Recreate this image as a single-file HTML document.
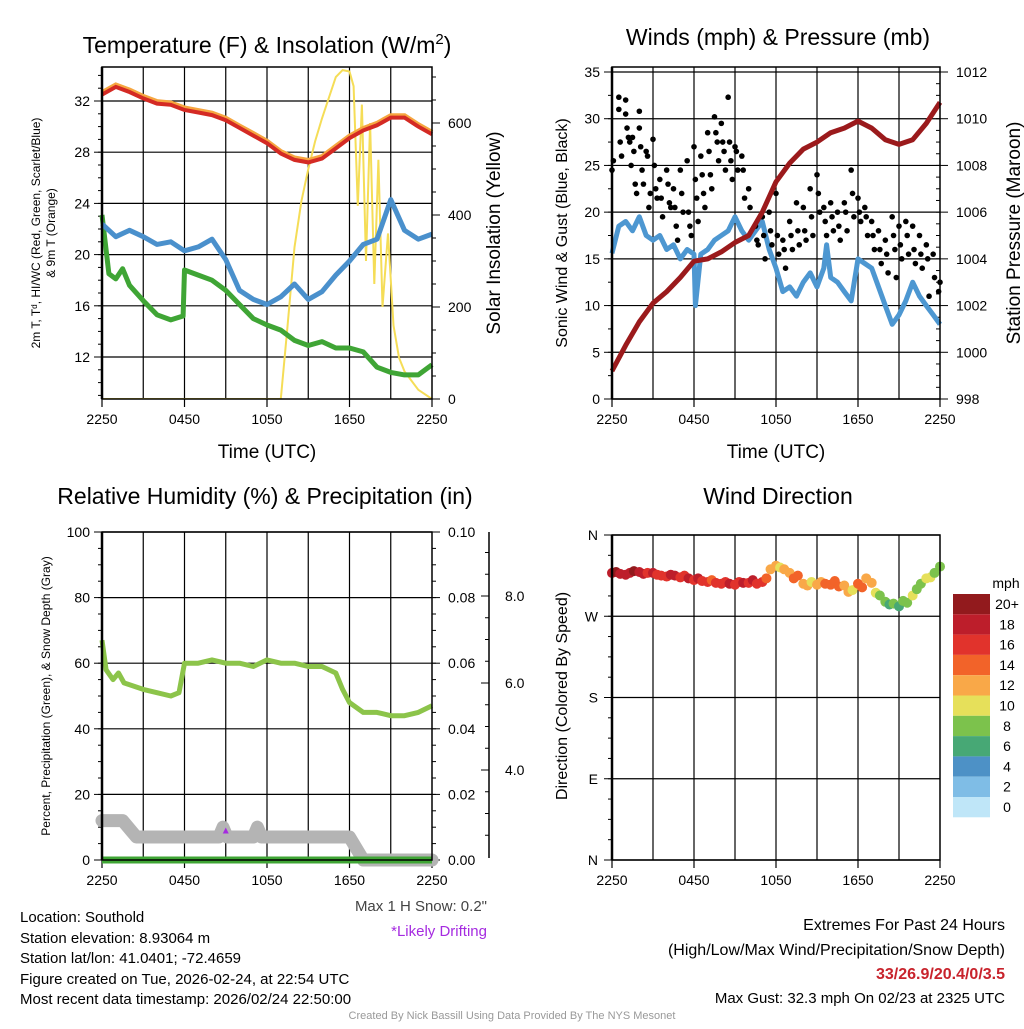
<!DOCTYPE html>
<html><head><meta charset="utf-8"><style>
body{margin:0;background:#fff;}
svg text{font-family:"Liberation Sans",sans-serif;fill:#000;}
</style></head><body>
<svg id="c" width="1024" height="1024" viewBox="0 0 1024 1024" xmlns="http://www.w3.org/2000/svg">
<g id="g1"></g>
<g id="g2"></g>
<g id="g3"></g>
<g id="g4"></g>
<g font-size="15">
<text x="20" y="922">Location: Southold</text>
<text x="20" y="943">Station elevation: 8.93064 m</text>
<text x="20" y="963">Station lat/lon: 41.0401; -72.4659</text>
<text x="20" y="984">Figure created on Tue, 2026-02-24, at 22:54 UTC</text>
<text x="20" y="1004">Most recent data timestamp: 2026/02/24 22:50:00</text>
<text x="487" y="911" text-anchor="end" fill="#444" style="fill:#444">Max 1 H Snow: 0.2"</text>
<text x="487" y="936" text-anchor="end" style="fill:#a52be0">*Likely Drifting</text>
<text x="1005" y="930" text-anchor="end" font-size="16">Extremes For Past 24 Hours</text>
<text x="1005" y="955" text-anchor="end" font-size="16">(High/Low/Max Wind/Precipitation/Snow Depth)</text>
<text x="1005" y="979" text-anchor="end" font-size="16" font-weight="bold" style="fill:#c8232c">33/26.9/20.4/0/3.5</text>
<text x="1005" y="1003" text-anchor="end" font-size="15">Max Gust: 32.3 mph On 02/23 at 2325 UTC</text>
<text x="512" y="1019" text-anchor="middle" font-size="11" style="fill:#999">Created By Nick Bassill Using Data Provided By The NYS Mesonet</text>
</g>
</svg>
<script>
// ---------- data ----------
const xTickLabels = ["2250","0450","1050","1650","2250"];
const hours = [0,1,2,3,4,5,6,7,8,9,10,11,12,13,14,15,16,17,18,19,20,21,22,23,24];
const tempVals = [32.5,33.1,32.7,32.2,31.8,31.7,31.3,31.1,30.9,30.5,29.9,29.3,28.7,27.9,27.4,27.2,27.5,28.3,29.1,29.7,30.1,30.7,30.7,30.0,29.4];
const dewVals = [22.4,21.4,21.9,21.4,20.8,21.0,20.3,20.6,21.2,19.6,17.2,16.5,16.1,16.7,17.7,16.5,17.1,18.4,19.5,20.8,21.2,24.3,21.9,21.2,21.6];
const chillHours = [0,0.5,1,1.5,2,3,4,5,5.9,6,7,8,9,10,11,12,13,14,15,16,17,18,19,20,21,22,23,24];
const chillVals = [23.1,18.5,18.1,18.9,17.6,16.4,15.3,14.9,15.2,18.8,18.4,18.0,17.2,16.1,15.0,14.5,14.1,13.3,12.9,13.2,12.7,12.7,12.4,11.2,10.8,10.6,10.6,11.4];
const solarHours = [0,13,13.5,14,14.5,15,15.5,16,16.5,17,17.5,18,18.3,18.6,18.9,19.2,19.5,19.8,20.1,20.4,20.8,21.2,21.6,22,22.5,23,24];
const solarVals = [0,0,160,330,430,500,560,610,655,700,715,712,680,420,640,300,600,250,520,200,360,160,90,60,40,20,0];
const tempTicks = [12,16,20,24,28,32];
const solarTicks = [0,200,400,600];

const windHours = [0,0.5,1,1.5,2,2.5,3,3.5,4,4.5,5,5.5,6,6.1,6.5,7,7.5,8,8.5,9,9.5,10,10.5,11,11.5,12,12.5,13,13.5,14,14.5,15,15.5,15.7,16,16.5,17,17.5,18,18.5,19,19.5,20,20.5,21,21.5,22,22.5,23,23.5,24];
const windVals = [15.6,18.5,19,18,19.5,17.5,17,17.5,16,16.5,15,16,15.5,10,15.5,16,17,17.5,18,19.5,18,17,18,19,16,14,11.5,12,11,12.5,13.5,12,14,16.5,13,12.5,11.5,10.5,15,14.5,14,12,10,8,9,10.5,12.5,11,10,9,8];
const gustHours = [0,0.1,0.5,0.5,0.6,0.7,1,1,1.1,1.2,1.3,1.4,1.5,1.6,1.7,1.8,2,2,2.1,2.2,2.3,2.5,2.6,2.7,2.8,3,3.1,3.2,3.3,3.5,3.6,3.7,4,4.1,4.2,4.3,4.5,4.6,4.7,4.8,5,5.1,5.2,5.5,5.6,5.7,5.8,6,6.1,6.2,6.3,6.5,6.6,6.7,6.8,7,7.1,7.2,7.3,7.5,7.6,7.7,7.8,8,8.1,8.2,8.3,8.5,8.6,8.7,8.8,9,9.1,9.2,9.5,9.6,9.7,10,10.1,10.5,10.6,10.7,11,11.1,11.2,11.5,11.6,11.7,12,12.1,12.2,12.5,12.6,12.7,13,13.1,13.2,13.5,13.6,13.7,14,14.1,14.2,14.5,14.6,14.7,15,15.1,15.2,15.5,15.6,15.7,16,16.1,16.2,16.5,16.6,16.7,17,17.1,17.2,17.5,17.6,17.7,18,18.1,18.2,18.5,18.6,18.7,19,19.1,19.2,19.5,19.6,19.7,20,20.1,20.2,20.5,20.6,20.7,20.8,21,21.1,21.2,21.5,21.6,21.7,22,22.1,22.2,22.5,22.6,22.7,23,23.1,23.2,23.5,23.6,24,23.9];
const gustVals = [24.5,25.5,32.3,31,27.5,26,32,30.5,29,28,27.5,25,28,26.5,23,22,30.8,29,27,24.5,23,26.5,26,20.5,22,27.8,25,22.5,21.5,23.5,21.5,19.5,24.5,23,21,20.5,22.5,20.5,18.5,17,24.5,22,20,25.5,20,18.5,17.5,27,23.5,21.5,19,26,24,22,20.5,28.5,26.5,24,22.5,30.2,28.5,27.5,25.5,29.5,27.5,26.5,24.5,32.3,27.5,25.5,23.5,27,26.5,24.5,26,24.5,21.5,22.5,20.5,18.5,17,16.5,19.5,17.5,15,20,18,16.5,22,17.5,15.5,17,16,14,19,17.5,16,21,18,16.5,20.5,18,17,22.5,19.5,17.5,24,22,20,20.5,19,17.5,21,19.5,18,20,18.5,17,21,20,18,24.5,22,19.5,21.5,20,19,20.5,19.5,17.5,19,17.5,16,18,16,14.5,17,15.5,13.5,19.5,17.5,16,13,18.5,16.5,15,19,17.5,15.5,18.5,16,14.5,17.5,15.5,14,16.5,15,11,15.5,13,12.5,11.5];
const presHours = hours;
const presVals = [999.2,1000.3,1001.3,1002.1,1002.6,1003.2,1003.9,1004.0,1004.3,1004.7,1005.0,1006.0,1007.3,1008.1,1008.7,1009.0,1009.4,1009.6,1009.9,1009.6,1009.1,1008.9,1009.1,1009.8,1010.7];
const windTicks = [0,5,10,15,20,25,30,35];
const presTicks = [998,1000,1002,1004,1006,1008,1010,1012];

const rhHours = [0,0.3,0.8,1.2,1.6,3,4,5,5.6,6,7,8,9,10,11,12,13,14,15,16,17,17.5,18,19,20,21,22,23,24];
const rhVals = [67,58,55,57,54,52,51,50,51,60,60,61,60,60,59,61,60,60,59,59,57,52,48,45,45,44,44,45,47];
const snowHours = [0,1.5,2.5,3,6,8.5,8.8,9.1,9.4,10,11,11.3,11.6,12,18,19,24];
const snowVals = [12,12,7,7,7,7,10,7,7,7,7,10,7,7,7,0,0];
const precipVals = [0,0];
const precipHours = [0,24];
const rhTicks = [0,20,40,60,80,100];
const precipTicks = ["0.00","0.02","0.04","0.06","0.08","0.10"];
const snowTicks = ["4.0","6.0","8.0"];

const dirHours = [0,0.3,0.6,1,1.3,1.6,2,2.3,2.6,3,3.3,3.6,4,4.3,4.6,5,5.3,5.6,6,6.3,6.6,7,7.3,7.6,8,8.3,8.6,9,9.3,9.6,10,10.3,10.6,11,11.3,11.6,12,12.3,12.6,13,13.3,13.6,14,14.3,14.6,15,15.3,15.6,16,16.3,16.6,17,17.3,17.6,18,18.3,18.6,19,19.3,19.6,20,20.3,20.6,21,21.3,21.6,22,22.3,22.6,23,23.3,23.6,24];
const dirVals = [318,319,317,316,318,320,319,317,318,318,316,315,314,316,315,313,315,312,310,312,309,308,310,307,306,308,306,305,308,307,307,310,306,308,312,322,326,324,322,318,312,315,306,304,308,305,308,306,305,309,303,304,297,299,306,302,312,307,296,293,286,283,284,281,287,285,293,300,306,312,313,318,325];
const dirSpeeds = [19,20,18,19,18,20,19,18,17,18,17,16,17,19,18,17,16,18,17,18,17,16,15,17,16,17,18,16,17,18,17,19,16,17,15,12,13,11,13,12,14,15,12,13,11,13,12,14,15,14,14,13,12,11,14,15,12,13,10,9,8,7,8,7,8,9,10,9,8,10,11,9,8];
const dirTicks = ["N","E","S","W","N"];
const cbLabels = ["20+","18","16","14","12","10","8","6","4","2","0"];
const cbColors = ["#921a1d","#bd1e2b","#e1332c","#f26329","#f9a848","#e6e05a","#7cc24c","#47a875","#4d91c6","#7fbde6","#bfe6f8"];

// ---------- helpers ----------
const NS="http://www.w3.org/2000/svg";
function mk(parent,tag,attrs){const e=document.createElementNS(NS,tag);for(const k in attrs)e.setAttribute(k,attrs[k]);parent.appendChild(e);return e;}
function txt(parent,x,y,s,size,anchor,extra){const t=mk(parent,"text",Object.assign({x:x,y:y,"font-size":size,"text-anchor":anchor||"middle"},extra||{}));t.textContent=s;return t;}
function lin(d0,d1,r0,r1){return v=>r0+(v-d0)/(d1-d0)*(r1-r0);}
function pathFrom(xs,ys,fx,fy){return xs.map((h,i)=>(i?"L":"M")+fx(h).toFixed(1)+","+fy(ys[i]).toFixed(1)).join(" ");}

function frame(g,L,R,T,B){
  const fx=lin(0,24,L,R);
  for(let h=3;h<24;h+=3){
    const l=mk(g,"line",{x1:fx(h),x2:fx(h),y1:T,y2:B,stroke:"#000","stroke-width":1.2});
    
    
  }
  xTickLabels.forEach((s,i)=>{
    const x=fx(i*6);
    mk(g,"line",{x1:x,x2:x,y1:B,y2:B+8,stroke:"#000","stroke-width":1.2});
    const t=txt(g,x,B+25,s,14);
    
    
  });
  return fx;
}
function box(g,L,R,T,B){
  const r=mk(g,"rect",{x:L,y:T,width:R-L,height:B-T,fill:"none",stroke:"#000","stroke-width":1.5});
  
  
  mk(g,"line",{x1:L,x2:L,y1:T,y2:B,stroke:"#000","stroke-width":2.5});
}

// ---------- panel 1 ----------
(function(){
  const g=document.getElementById("g1");
  const L=102,R=432,T=67,B=399;
  const fx=frame(g,L,R,T,B);
  const fy=lin(32,12,101,357);
  const fs=lin(0,600,399,123);
  tempTicks.forEach(v=>{
    mk(g,"line",{x1:L,x2:R,y1:fy(v),y2:fy(v),stroke:"#000","stroke-width":1.2});
    mk(g,"line",{x1:L-8,x2:L,y1:fy(v),y2:fy(v),stroke:"#000"});
    const t=txt(g,L-12,fy(v)+5,String(v),14,"end");
    
    
  });
  for(let v=9;v<=34;v++){mk(g,"line",{x1:L-4,x2:L,y1:fy(v),y2:fy(v),stroke:"#000"});}
  solarTicks.forEach(v=>{
    mk(g,"line",{x1:R,x2:R+8,y1:fs(v),y2:fs(v),stroke:"#000"});
    const t=txt(g,R+16,fs(v)+5,String(v),14,"start");
    
    
  });
  for(let v=0;v<=700;v+=50){mk(g,"line",{x1:R,x2:R+4,y1:fs(v),y2:fs(v),stroke:"#000"});}
  const clip=mk(g,"clipPath",{id:"cp1"});mk(clip,"rect",{x:L,y:T,width:R-L,height:B-T});
  const s=mk(g,"path",{d:pathFrom(solarHours,solarVals,fx,fs),fill:"none",stroke:"#f5dd57","stroke-width":2,"clip-path":"url(#cp1)"});
  
  
  const c=mk(g,"path",{d:pathFrom(chillHours,chillVals,fx,fy),fill:"none",stroke:"#3fa535","stroke-width":5,"stroke-linejoin":"round"});
  
  
  const d=mk(g,"path",{d:pathFrom(hours,dewVals,fx,fy),fill:"none",stroke:"#4a90cc","stroke-width":5,"stroke-linejoin":"round"});
  
  
  const o=mk(g,"path",{d:pathFrom(hours,tempVals.map(v=>v+0.15),fx,fy),fill:"none",stroke:"#f6a640","stroke-width":5});
  
  
  const t=mk(g,"path",{d:pathFrom(hours,tempVals,fx,fy),fill:"none",stroke:"#d42a24","stroke-width":4});
  
  
  box(g,L,R,T,B);
  const ti=txt(g,267,53,"Temperature (F) & Insolation (W/m",23);
  
  
  const sup=mk(ti,"tspan",{dy:-9,"font-size":15});sup.textContent="2";
  const sup2=mk(ti,"tspan",{dy:9});sup2.textContent=")";
  const xl=txt(g,267,458,"Time (UTC)",19);
  
  
  const yl=mk(g,"text",{transform:"translate(40,233) rotate(-90)","font-size":12,"text-anchor":"middle"});
  yl.textContent="2m T, T\u1D48, HI/WC (Red, Green, Scarlet/Blue)";
  
  
  const yl2=mk(g,"text",{transform:"translate(55,233) rotate(-90)","font-size":12,"text-anchor":"middle"});
  yl2.textContent="& 9m T (Orange)";
  
  
  const yr=mk(g,"text",{transform:"translate(500,233) rotate(-90)","font-size":19,"text-anchor":"middle"});
  yr.textContent="Solar Insolation (Yellow)";
  
  
})();

// ---------- panel 2 ----------
(function(){
  const g=document.getElementById("g2");
  const L=612,R=940,T=67,B=399;
  const fx=frame(g,L,R,T,B);
  const fy=lin(0,35,399,72);
  const fp=lin(998,1012,399,72);
  windTicks.forEach(v=>{
    mk(g,"line",{x1:L,x2:R,y1:fy(v),y2:fy(v),stroke:"#000","stroke-width":1.2});
    mk(g,"line",{x1:L-8,x2:L,y1:fy(v),y2:fy(v),stroke:"#000"});
    const t=txt(g,L-12,fy(v)+5,String(v),14,"end");
    
    
  });
  for(let v=0;v<=35;v+=2.5){mk(g,"line",{x1:L-4,x2:L,y1:fy(v),y2:fy(v),stroke:"#000"});}
  presTicks.forEach(v=>{
    mk(g,"line",{x1:R,x2:R+8,y1:fp(v),y2:fp(v),stroke:"#000"});
    const t=txt(g,R+16,fp(v)+5,String(v),14,"start");
    
    
  });
  for(let v=998;v<=1012;v+=0.5){mk(g,"line",{x1:R-4,x2:R,y1:fp(v),y2:fp(v),stroke:"#000"});}
  const w=mk(g,"path",{d:pathFrom(windHours,windVals,fx,fy),fill:"none",stroke:"#4d97d1","stroke-width":5,"stroke-linejoin":"round"});
  
  
  gustHours.forEach((h,i)=>{
    const c=mk(g,"circle",{cx:fx(h),cy:fy(gustVals[i]),r:2.8,fill:"#000"});
    
    
  });
  const p=mk(g,"path",{d:pathFrom(presHours,presVals,fx,fp),fill:"none",stroke:"#9b1a1c","stroke-width":5,"stroke-linejoin":"round"});
  
  
  box(g,L,R,T,B);
  const ti=txt(g,778,45,"Winds (mph) & Pressure (mb)",23);
  
  
  const xl=txt(g,776,458,"Time (UTC)",19);
  
  
  const yl=mk(g,"text",{transform:"translate(567,233) rotate(-90)","font-size":16,"text-anchor":"middle"});
  yl.textContent="Sonic Wind & Gust (Blue, Black)";
  
  
  const yr=mk(g,"text",{transform:"translate(1020,233) rotate(-90)","font-size":19,"text-anchor":"middle"});
  yr.textContent="Station Pressure (Maroon)";
  
  
})();

// ---------- panel 3 ----------
(function(){
  const g=document.getElementById("g3");
  const L=102,R=432,T=532,B=860;
  const fx=frame(g,L,R,T,B);
  const fy=lin(0,100,860,532);
  rhTicks.forEach((v,i)=>{
    mk(g,"line",{x1:L,x2:R,y1:fy(v),y2:fy(v),stroke:"#000","stroke-width":1.2});
    mk(g,"line",{x1:L-8,x2:L,y1:fy(v),y2:fy(v),stroke:"#000"});
    const t=txt(g,L-12,fy(v)+5,String(v),14,"end");
    
    
    mk(g,"line",{x1:R,x2:R+8,y1:fy(v),y2:fy(v),stroke:"#000"});
    const t2=txt(g,R+16,fy(v)+5,precipTicks[i],14,"start");
    
    
  });
  for(let v=0;v<=100;v+=5){mk(g,"line",{x1:L-4,x2:L,y1:fy(v),y2:fy(v),stroke:"#000"});mk(g,"line",{x1:R,x2:R+4,y1:fy(v),y2:fy(v),stroke:"#000"});}
  const ax=mk(g,"line",{x1:489,x2:489,y1:532,y2:858,stroke:"#000","stroke-width":1.5});
  
  
  const fsn=lin(4,8,770,596);
  snowTicks.forEach(s=>{
    const v=parseFloat(s);
    mk(g,"line",{x1:481,x2:489,y1:fsn(v),y2:fsn(v),stroke:"#000"});
    const t=txt(g,505,fsn(v)+5,s,14,"start");
    
    
  });
  for(let v=2.5;v<=9.5;v+=0.5){const y=fsn(v);if(y>=532&&y<=858)mk(g,"line",{x1:485,x2:489,y1:y,y2:y,stroke:"#000"});}
  const sn=mk(g,"path",{d:pathFrom(snowHours,snowVals,fx,fy),fill:"none",stroke:"#b4b4b4","stroke-width":13,"stroke-linejoin":"round","stroke-linecap":"round"});
  
  
  const pr=mk(g,"path",{d:pathFrom(precipHours,precipVals,fx,fy),fill:"none",stroke:"#3fa535","stroke-width":7});
  
  
  const rh=mk(g,"path",{d:pathFrom(rhHours,rhVals,fx,fy),fill:"none",stroke:"#8cc44a","stroke-width":5,"stroke-linejoin":"round"});
  
  
  const tri=mk(g,"polygon",{points:`${fx(9)-3},${fy(9)+3} ${fx(9)+3},${fy(9)+3} ${fx(9)},${fy(9)-3}`,fill:"#a52be0"});
  
  
  box(g,L,R,T,B);
  const ti=txt(g,265,504,"Relative Humidity (%) & Precipitation (in)",23);
  
  
  const yl=mk(g,"text",{transform:"translate(50,696) rotate(-90)","font-size":12,"text-anchor":"middle"});
  yl.textContent="Percent, Precipitation (Green), & Snow Depth (Gray)";
  
  
})();

// ---------- panel 4 ----------
(function(){
  const g=document.getElementById("g4");
  const L=612,R=940,T=535,B=860;
  const fx=frame(g,L,R,T,B);
  const fy=lin(0,360,860,535);
  dirTicks.forEach((s,i)=>{
    const y=fy(i*90);
    mk(g,"line",{x1:L,x2:R,y1:y,y2:y,stroke:"#000","stroke-width":1.2});
    mk(g,"line",{x1:L-8,x2:L,y1:y,y2:y,stroke:"#000"});
    const t=txt(g,L-14,y+5,s,14,"end");
    
    
  });
  for(let v=0;v<=360;v+=22.5){mk(g,"line",{x1:L-4,x2:L,y1:fy(v),y2:fy(v),stroke:"#000"});}
  function col(s){let i=Math.round((20-Math.min(20,s))/2);return cbColors[Math.max(0,Math.min(10,i))];}
  dirHours.forEach((h,i)=>{
    const c=mk(g,"circle",{cx:fx(h),cy:fy(dirVals[i]),r:5,fill:col(dirSpeeds[i])});
    
    
  });
  box(g,L,R,T,B);
  const ti=txt(g,778,504,"Wind Direction",23);
  
  
  const yl=mk(g,"text",{transform:"translate(567,696) rotate(-90)","font-size":16,"text-anchor":"middle"});
  yl.textContent="Direction (Colored By Speed)";
  
  
  const ct=txt(g,1006,588,"mph",14,"middle");
  
  
  cbLabels.forEach((s,i)=>{
    const y=594+i*20.3;
    const r=mk(g,"rect",{x:953,y:y,width:37,height:20.3,fill:cbColors[i]});
    
    
    const t=txt(g,1007,y+15,s,14,"middle");
    
    
  });
})();
</script>
</body></html>
